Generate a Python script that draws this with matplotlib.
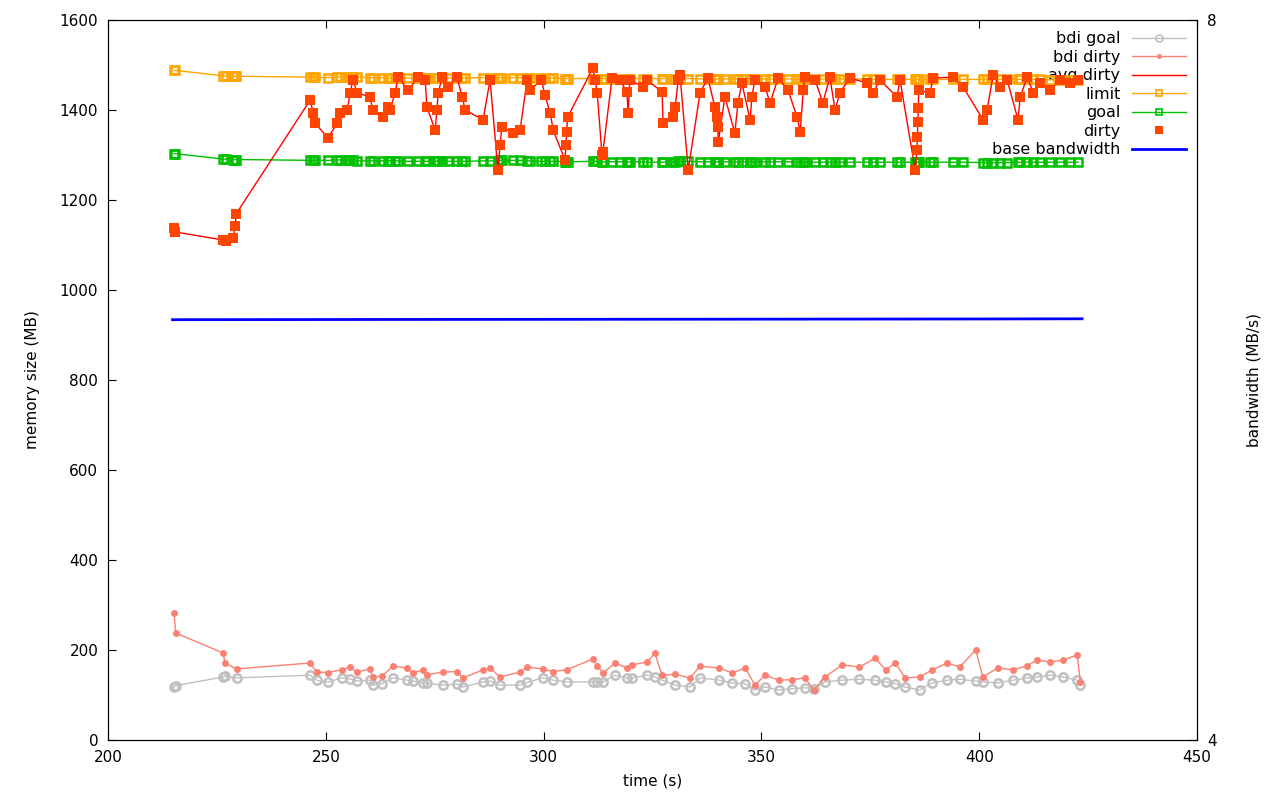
import matplotlib
matplotlib.use("Agg")
import matplotlib.pyplot as plt
from matplotlib.lines import Line2D

# dirty pages trace (time, memory sizes in MB)
t = [215.2, 215.4, 226.4, 227.1, 228.7, 229.2, 229.4, 246.4, 247.1, 247.5,
     250.5, 252.6, 253.3, 254.9, 255.6, 256.2, 257.2, 260.1, 260.8, 263.1,
     264.3, 264.7, 265.9, 266.6, 268.9, 271.2, 272.8, 273.2, 275.1, 275.5,
     275.8, 276.7, 278.1, 280.1, 281.3, 282.0, 286.1, 287.7, 289.5, 290.0,
     290.4, 293.0, 294.6, 296.2, 296.9, 299.5, 300.3, 301.5, 302.2, 304.9,
     305.1, 305.3, 305.5, 311.3, 311.8, 312.3, 313.4, 313.6, 315.7, 317.5,
     319.1, 319.4, 319.8, 322.8, 323.7, 327.2, 327.4, 329.7, 330.2, 330.9,
     331.3, 333.2, 335.9, 337.7, 339.3, 339.8, 340.0, 340.1, 341.6, 343.9,
     344.6, 345.5, 347.4, 347.8, 348.5, 350.8, 352.0, 353.8, 356.1, 358.2,
     358.9, 359.6, 360.0, 362.3, 364.1, 365.7, 366.9, 368.0, 370.3, 374.2,
     375.6, 377.2, 381.1, 381.8, 385.3, 385.7, 385.8, 385.9, 386.0, 386.1,
     388.7, 389.4, 394.0, 396.3, 400.9, 401.8, 403.2, 404.8, 406.4, 408.9,
     409.4, 411.0, 412.4, 414.0, 416.3, 418.5, 420.8, 422.7]

dirty = [1138, 1129, 1111, 1110, 1116, 1142, 1169, 1422, 1393, 1371,
         1338, 1371, 1393, 1400, 1438, 1467, 1438, 1429, 1400, 1384,
         1407, 1400, 1438, 1473, 1444, 1473, 1467, 1407, 1355, 1400,
         1438, 1473, 1451, 1473, 1429, 1400, 1378, 1467, 1267, 1322,
         1362, 1349, 1356, 1467, 1444, 1467, 1433, 1393, 1355, 1289,
         1322, 1351, 1384, 1493, 1467, 1438, 1300, 1307, 1471, 1467,
         1440, 1393, 1467, 1451, 1467, 1440, 1371, 1384, 1407, 1467,
         1478, 1267, 1438, 1471, 1407, 1384, 1362, 1329, 1429, 1349,
         1416, 1460, 1378, 1429, 1467, 1451, 1416, 1471, 1444, 1384,
         1351, 1444, 1473, 1467, 1416, 1473, 1400, 1438, 1471, 1460,
         1438, 1467, 1429, 1467, 1267, 1311, 1340, 1373, 1404, 1444,
         1438, 1471, 1473, 1451, 1378, 1400, 1478, 1451, 1467, 1378,
         1429, 1473, 1438, 1460, 1444, 1467, 1460, 1467]

avg_dirty = dirty

goal = [1303, 1303, 1291, 1291, 1290, 1290, 1290, 1288, 1288, 1288,
        1288, 1289, 1289, 1289, 1288, 1288, 1287, 1287, 1287, 1287,
        1287, 1287, 1287, 1287, 1286, 1286, 1286, 1286, 1286, 1286,
        1286, 1286, 1286, 1286, 1286, 1286, 1287, 1287, 1287, 1288,
        1288, 1288, 1288, 1287, 1287, 1286, 1286, 1286, 1286, 1285,
        1285, 1285, 1285, 1286, 1286, 1286, 1285, 1285, 1285, 1285,
        1285, 1285, 1285, 1285, 1284, 1284, 1284, 1285, 1285, 1286,
        1286, 1286, 1285, 1285, 1285, 1285, 1285, 1285, 1285, 1285,
        1285, 1285, 1285, 1285, 1285, 1285, 1285, 1285, 1285, 1284,
        1284, 1284, 1284, 1284, 1284, 1284, 1284, 1284, 1284, 1284,
        1284, 1284, 1284, 1284, 1284, 1284, 1284, 1284, 1284, 1284,
        1284, 1284, 1284, 1284, 1283, 1283, 1283, 1283, 1283, 1284,
        1284, 1284, 1284, 1284, 1284, 1284, 1284, 1284]

limit = [1488, 1488, 1476, 1476, 1475, 1475, 1475, 1473, 1473, 1473,
         1472, 1473, 1474, 1474, 1474, 1473, 1473, 1472, 1472, 1472,
         1471, 1471, 1471, 1471, 1471, 1471, 1471, 1471, 1471, 1471,
         1471, 1471, 1471, 1471, 1471, 1471, 1472, 1472, 1472, 1472,
         1472, 1472, 1472, 1471, 1471, 1471, 1471, 1471, 1471, 1470,
         1470, 1470, 1470, 1470, 1470, 1470, 1470, 1470, 1470, 1470,
         1470, 1470, 1470, 1470, 1470, 1470, 1470, 1470, 1470, 1470,
         1470, 1470, 1469, 1469, 1469, 1469, 1469, 1469, 1469, 1469,
         1469, 1469, 1469, 1469, 1469, 1469, 1469, 1469, 1469, 1469,
         1469, 1469, 1469, 1469, 1469, 1469, 1469, 1469, 1469, 1469,
         1468, 1468, 1468, 1468, 1468, 1468, 1468, 1468, 1468, 1468,
         1468, 1468, 1468, 1468, 1468, 1468, 1468, 1468, 1468, 1468,
         1468, 1468, 1468, 1468, 1467, 1467, 1467, 1467]

# per-bdi trace
t_bdi = [215.2, 215.5, 226.5, 226.8, 229.5, 246.4, 247.9, 250.5, 253.6, 255.5,
         257.2, 260.1, 260.8, 262.9, 265.4, 268.6, 270.0, 272.3, 273.2, 276.9,
         280.1, 281.5, 286.1, 287.7, 290.0, 294.6, 296.2, 299.8, 302.1, 305.3,
         311.3, 312.3, 313.6, 316.4, 319.1, 320.3, 323.7, 325.5, 327.2, 330.2,
         333.6, 335.9, 340.3, 343.3, 346.3, 348.5, 350.8, 354.0, 357.0, 360.0,
         362.0, 364.6, 368.5, 372.5, 376.1, 378.5, 380.7, 383.0, 386.3, 389.2,
         392.7, 395.5, 399.2, 400.8, 404.2, 407.8, 411.0, 413.3, 416.3, 419.3,
         422.5, 423.2]

bdi_dirty = [282, 238, 193, 171, 158, 171, 151, 150, 156, 162,
             151, 158, 140, 142, 164, 160, 149, 156, 145, 151,
             152, 138, 156, 160, 140, 151, 162, 158, 152, 156,
             180, 165, 149, 171, 160, 167, 173, 193, 144, 146,
             138, 164, 160, 149, 160, 122, 144, 133, 134, 138,
             111, 140, 167, 162, 182, 156, 171, 138, 140, 156,
             171, 162, 200, 140, 160, 156, 165, 178, 173, 178,
             189, 129]

bdi_goal = [118, 121, 140, 142, 138, 144, 133, 129, 138, 136,
            131, 133, 122, 125, 138, 133, 131, 127, 126, 122,
            124, 118, 129, 131, 122, 122, 128, 138, 133, 129,
            129, 128, 129, 144, 138, 138, 144, 140, 133, 122,
            118, 138, 133, 127, 125, 111, 118, 111, 114, 116,
            114, 129, 133, 135, 133, 129, 125, 118, 111, 127,
            133, 135, 131, 129, 127, 133, 138, 140, 144, 140,
            133, 122]

# base bandwidth (right axis, MB/s)
t_bw = [214.8, 250.0, 300.0, 350.0, 400.0, 423.6]
bandwidth = [6.335, 6.336, 6.337, 6.338, 6.339, 6.340]

plt.rcParams['font.family'] = 'DejaVu Sans'
plt.rcParams['font.size'] = 11

fig = plt.figure(figsize=(12.8, 8), dpi=100)
ax = fig.add_axes([0.0844, 0.075, 0.8508, 0.9])
ax2 = ax.twinx()

# data points are dense in the original trace, so markers drawn a bit fat
ax.plot(t_bdi, bdi_goal, color='#c0c0c0', lw=1, marker='o', ms=6,
        mfc='none', mew=1.8, zorder=3)
ax.plot(t_bdi, bdi_dirty, color='#fa8072', lw=1, marker='o', ms=5,
        mew=0, zorder=4)
ax.plot(t, limit, color='#ffa500', lw=1, marker='s', ms=5.5,
        mfc='none', mew=1.8, zorder=3)
ax.plot(t, goal, color='#00c000', lw=1, marker='s', ms=5.5,
        mfc='none', mew=1.8, zorder=3)
ax.plot(t, avg_dirty, color='#ff0000', lw=1, zorder=4)
ax.plot(t, dirty, ls='none', color='#ff4500', marker='s', ms=7.5, mew=0,
        zorder=5)

ax2.plot(t_bw, bandwidth, color='#0000ff', lw=2)

ax.set_xlim(200, 450)
ax.set_ylim(0, 1600)
ax.set_xticks(range(200, 451, 50))
ax.set_yticks(range(0, 1601, 200))
ax2.set_ylim(4, 8)
ax2.set_yticks([4, 8])

ax.tick_params(direction='in', top=True, length=6, pad=7)
ax2.tick_params(direction='in', length=6, pad=7)

ax.set_xlabel('time (s)', labelpad=6)
ax.set_ylabel('memory size (MB)', labelpad=14)
ax2.set_ylabel('bandwidth (MB/s)', labelpad=22)

handles = [
    Line2D([], [], color='#c0c0c0', lw=1, marker='o', ms=5, mfc='none', mew=1.2),
    Line2D([], [], color='#fa8072', lw=1, marker='o', ms=3.5, mew=0),
    Line2D([], [], color='#ff0000', lw=1),
    Line2D([], [], color='#ffa500', lw=1, marker='s', ms=5, mfc='none', mew=1.2),
    Line2D([], [], color='#00c000', lw=1, marker='s', ms=5, mfc='none', mew=1.2),
    Line2D([], [], color='#ff4500', ls='none', marker='s', ms=6, mew=0),
    Line2D([], [], color='#0000ff', lw=2),
]
labels = ['bdi goal', 'bdi dirty', 'avg dirty', 'limit', 'goal', 'dirty',
          'base bandwidth']
leg = ax.legend(handles, labels, loc='upper right', markerfirst=False,
                frameon=False, handlelength=3.4, labelspacing=0.22,
                borderaxespad=0.3, handletextpad=0.7, fontsize=11.5)
leg.set_zorder(1)

fig.savefig('out.png', dpi=100)
